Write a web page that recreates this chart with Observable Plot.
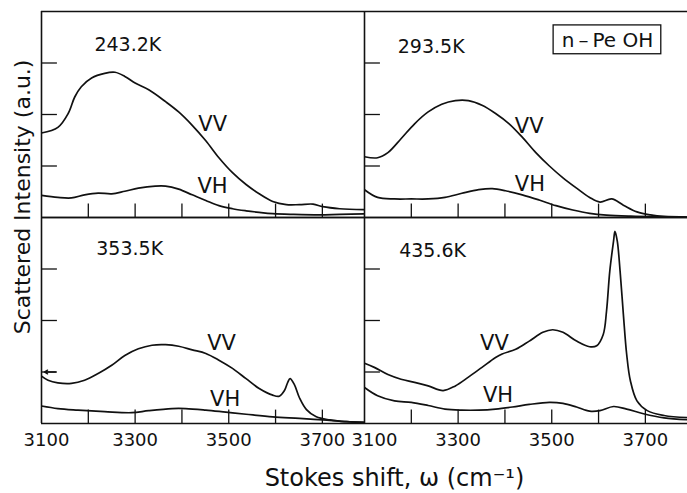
<!DOCTYPE html>
<html>
<head>
<meta charset="utf-8">
<script src="https://cdn.jsdelivr.net/npm/d3@7"></script>
<script src="https://cdn.jsdelivr.net/npm/@observablehq/plot@0.6"></script>
<style>
  html, body { margin: 0; padding: 0; background: #fff; }
  #chart { width: 687px; height: 493px; overflow: hidden; }
</style>
</head>
<body>
<div id="chart"></div>
<script>
// ---- Data ----
// Panel (top-left): 243.2 K
const shiftTL_VV = [3100, 3135, 3157, 3171, 3185, 3207, 3235, 3257, 3278, 3300, 3329, 3365, 3393, 3422, 3451, 3479, 3508, 3537, 3565, 3594, 3623, 3651, 3680, 3701, 3737, 3795];
const vvTL       = [1.64, 1.75, 2.02, 2.34, 2.54, 2.71, 2.80, 2.82, 2.74, 2.61, 2.48, 2.25, 2.05, 1.79, 1.49, 1.16, 0.87, 0.64, 0.46, 0.31, 0.25, 0.25, 0.26, 0.21, 0.17, 0.15];
const shiftTL_VH = [3100, 3135, 3164, 3192, 3221, 3250, 3278, 3307, 3343, 3365, 3393, 3422, 3451, 3479, 3508, 3537, 3565, 3594, 3637, 3694, 3737, 3795];
const vhTL       = [0.43, 0.39, 0.38, 0.44, 0.475, 0.46, 0.51, 0.57, 0.61, 0.61, 0.55, 0.44, 0.33, 0.23, 0.17, 0.13, 0.10, 0.075, 0.06, 0.05, 0.06, 0.07];

// Panel (top-right): 293.5 K
const shiftTR_VV = [3100, 3128, 3150, 3178, 3207, 3236, 3265, 3294, 3322, 3351, 3380, 3409, 3437, 3466, 3495, 3524, 3553, 3581, 3603, 3628, 3653, 3682, 3711, 3740, 3794];
const vvTR       = [1.18, 1.16, 1.26, 1.53, 1.82, 2.05, 2.20, 2.27, 2.27, 2.18, 2.02, 1.82, 1.56, 1.26, 1.00, 0.77, 0.57, 0.39, 0.30, 0.36, 0.24, 0.11, 0.05, 0.02, 0.01];
const shiftTR_VH = [3100, 3128, 3164, 3200, 3236, 3272, 3308, 3344, 3373, 3401, 3437, 3473, 3509, 3545, 3581, 3617, 3668, 3740, 3794];
const vhTR       = [0.54, 0.39, 0.36, 0.36, 0.36, 0.39, 0.47, 0.54, 0.56, 0.52, 0.44, 0.34, 0.23, 0.145, 0.08, 0.046, 0.026, 0.013, 0.007];

// Panel (bottom-left): 353.5 K
const shiftBL_VV = [3100, 3114, 3135, 3164, 3192, 3221, 3250, 3278, 3307, 3336, 3365, 3393, 3422, 3451, 3479, 3508, 3537, 3565, 3594, 3608, 3619, 3626, 3631, 3640, 3651, 3666, 3687, 3716, 3752, 3795];
const vvBL       = [0.92, 0.84, 0.79, 0.78, 0.84, 0.97, 1.13, 1.32, 1.45, 1.52, 1.53, 1.50, 1.43, 1.36, 1.23, 1.07, 0.87, 0.68, 0.55, 0.53, 0.64, 0.80, 0.87, 0.76, 0.50, 0.27, 0.13, 0.07, 0.035, 0.02];
const shiftBL_VH = [3100, 3135, 3178, 3235, 3293, 3329, 3379, 3408, 3451, 3494, 3537, 3594, 3651, 3701, 3752, 3795];
const vhBL       = [0.34, 0.29, 0.26, 0.23, 0.21, 0.25, 0.29, 0.29, 0.26, 0.22, 0.18, 0.13, 0.10, 0.07, 0.035, 0.02];

// Panel (bottom-right): 435.6 K
const shiftBR_VV = [3100, 3121, 3150, 3178, 3207, 3236, 3268, 3294, 3322, 3351, 3380, 3394, 3423, 3452, 3481, 3502, 3524, 3553, 3581, 3596, 3610, 3617, 3624, 3632, 3635, 3640, 3646, 3653, 3660, 3668, 3682, 3704, 3740, 3794];
const vvBR       = [1.17, 1.09, 0.95, 0.86, 0.80, 0.73, 0.64, 0.73, 0.90, 1.09, 1.28, 1.35, 1.44, 1.60, 1.77, 1.82, 1.77, 1.60, 1.49, 1.51, 1.73, 2.18, 2.96, 3.54, 3.73, 3.54, 2.96, 2.12, 1.35, 0.83, 0.44, 0.25, 0.155, 0.11];
const shiftBR_VH = [3100, 3128, 3164, 3200, 3236, 3272, 3308, 3344, 3380, 3416, 3452, 3495, 3524, 3553, 3581, 3603, 3632, 3660, 3696, 3740, 3794];
const vhBR       = [0.70, 0.54, 0.44, 0.41, 0.35, 0.28, 0.26, 0.26, 0.28, 0.32, 0.37, 0.41, 0.39, 0.32, 0.24, 0.25, 0.33, 0.28, 0.19, 0.11, 0.07];

// Panels, categories and tick labels
const panelCols   = ["L", "R", "L", "R"];
const panelRows   = ["T", "T", "B", "B"];
const tempLabels  = ["243.2K", "293.5K", "353.5K", "435.6K"];
const polarizations = ["VV", "VH"];
const xTickValues = [3200, 3300, 3400, 3500, 3600, 3700];
const xTickLabels = [3100, 3300, 3500, 3700];
const yTickValues = [1, 2, 3];
const sampleName  = "n\u2009\u2013\u2009Pe OH";
const xTitle = "Stokes shift, \u03c9 (cm\u207b\u00b9)";
const yTitle = "Scattered Intensity (a.u.)";

// ---- Build the table ----
const series = [
  [0, "VV", shiftTL_VV, vvTL], [0, "VH", shiftTL_VH, vhTL],
  [1, "VV", shiftTR_VV, vvTR], [1, "VH", shiftTR_VH, vhTR],
  [2, "VV", shiftBL_VV, vvBL], [2, "VH", shiftBL_VH, vhBL],
  [3, "VV", shiftBR_VV, vvBR], [3, "VH", shiftBR_VH, vhBR]
];
const rows = [];
for (const [p, pol, xs, ys] of series) {
  xs.forEach((s, i) => rows.push({col: panelCols[p], row: panelRows[p], pol: pol + p, shift: s, v: ys[i]}));
}

// annotation anchors (in data units of each panel)
const tempPos = [[3213, 3.36], [3171, 3.32], [3217, 3.39], [3174, 3.35]];
const tempData = tempLabels.map((t, i) => ({col: panelCols[i], row: panelRows[i], text: t, x: tempPos[i][0], y: tempPos[i][1]}));
const polPos = [
  [[3435, 1.81], [3433, 0.61]],
  [[3421, 1.77], [3421, 0.65]],
  [[3454, 1.55], [3460, 0.48]],
  [[3347, 1.55], [3353, 0.54]]
];
const polData = [];
polPos.forEach((pp, i) => pp.forEach((xy, j) => polData.push({col: panelCols[i], row: panelRows[i], text: polarizations[j], x: xy[0], y: xy[1]})));

const tickLabelData = [];
for (const c of ["L", "R"]) for (const t of xTickLabels) tickLabelData.push({col: c, row: "B", t});

const black = "#111";

const chart = Plot.plot({
  width: 687,
  height: 493,
  marginTop: 10,
  marginBottom: 70,
  marginLeft: 40,
  marginRight: 0,
  x: {domain: [3100, 3790], axis: null},
  y: {domain: [0, 4], axis: null},
  fx: {domain: ["L", "R"], padding: 0, axis: null},
  fy: {domain: ["T", "B"], padding: 0, axis: null},
  style: {fontFamily: "'DejaVu Sans', sans-serif", color: black, background: "white", overflow: "visible"},
  marks: [
    // frame: left edge, bottom and top of each panel
    Plot.ruleX([3100], {stroke: black, strokeWidth: 1.6}),
    Plot.ruleY([0], {stroke: black, strokeWidth: 1.6}),
    Plot.ruleY([4], {stroke: black, strokeWidth: 1.6}),
    // inward ticks
    Plot.ruleX(xTickValues, {y1: 0, y2: 0.26, stroke: black, strokeWidth: 1.3}),
    Plot.ruleY(yTickValues, {x1: 3100, x2: 3134, stroke: black, strokeWidth: 1.3}),
    Plot.arrow([{col: "L", row: "B"}], {fx: "col", fy: "row", x1: () => 3130, x2: () => 3106, y1: () => 1, y2: () => 1, headLength: 6, stroke: black, strokeWidth: 1.4}),
    // spectra
    Plot.line(rows, {x: "shift", y: "v", z: "pol", fx: "col", fy: "row", stroke: black, strokeWidth: 1.7, curve: "catmull-rom", clip: true}),
    // labels
    Plot.text(tempData, {x: "x", y: "y", fx: "col", fy: "row", text: "text", textAnchor: "start", fontSize: 19, fill: black}),
    Plot.text(polData, {x: "x", y: "y", fx: "col", fy: "row", text: "text", textAnchor: "start", fontSize: 21, fill: black}),
    Plot.rect([{col: "R", row: "T", x1: 3504, x2: 3734, y1: 3.17, y2: 3.73}], {x1: "x1", x2: "x2", y1: "y1", y2: "y2", fx: "col", fy: "row", fill: "none", stroke: black, strokeWidth: 1.3}),
    Plot.text([{col: "R", row: "T", x: 3619, y: 3.44}], {x: "x", y: "y", fx: "col", fy: "row", text: () => sampleName, fontSize: 20, fill: black}),
    // x tick labels
    Plot.text(tickLabelData.filter(d => d.t !== 3100), {x: "t", y: () => 0, fx: "col", fy: "row", text: d => String(d.t), dy: 16.5, fontSize: 18, fill: black}),
    Plot.text(tickLabelData.filter(d => d.t === 3100 && d.col === "L"), {x: "t", y: () => 0, fx: "col", fy: "row", text: d => String(d.t), dy: 16.5, dx: 5, fontSize: 18, fill: black}),
    Plot.text(tickLabelData.filter(d => d.t === 3100 && d.col === "R"), {x: "t", y: () => 0, fx: "col", fy: "row", text: d => String(d.t), dy: 16.5, dx: 10, fontSize: 18, fill: black}),
    // axis titles
    Plot.text([{col: "R", row: "B", x: 3164}], {x: "x", y: () => 0, fx: "col", fy: "row", text: () => xTitle, dy: 55, fontSize: 24, fill: black}),
    Plot.text([{col: "L", row: "T", x: 3100}], {x: "x", y: () => 0.4, fx: "col", fy: "row", text: () => yTitle, dx: -19, rotate: -90, fontSize: 22, fill: black})
  ]
});
document.getElementById("chart").appendChild(chart);
</script>
</body>
</html>
